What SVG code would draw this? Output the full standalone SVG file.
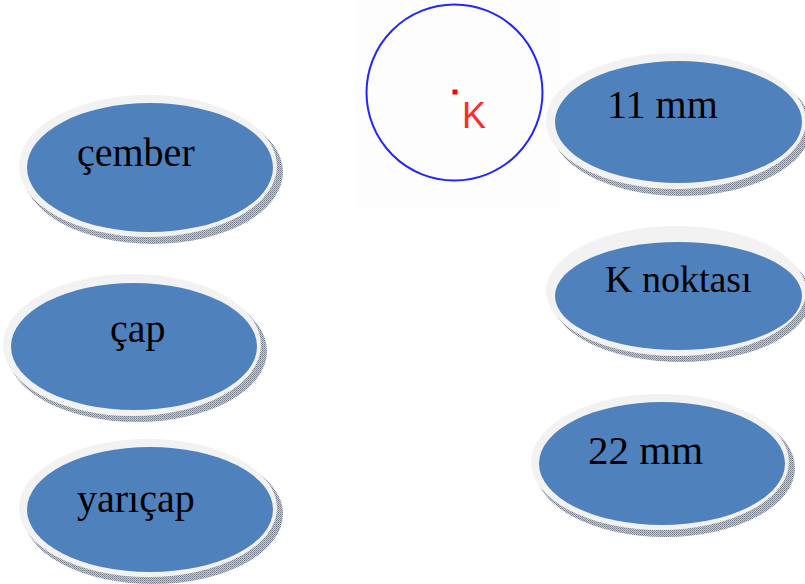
<svg xmlns="http://www.w3.org/2000/svg" width="805" height="584" viewBox="0 0 805 584">
<defs>
<pattern id="hatch" width="2" height="2" patternUnits="userSpaceOnUse">
<rect width="2" height="2" fill="#c9ccd3"/>
<rect width="1" height="1" fill="#737a88"/>
<rect x="1" y="1" width="1" height="1" fill="#8d93a0"/>
</pattern>
</defs>
<style>
.sh{fill:url(#hatch)}
.ring{fill:#f2f2f2}
.face{fill:#4f81bd}
.lbl{font-family:"Liberation Serif","Times New Roman",serif;fill:#000}
</style>
<rect width="805" height="584" fill="#ffffff"/>
<g id="figure">
<rect x="355" y="0" width="205" height="207" fill="#fdfdfd"/>
<circle cx="454.5" cy="92.5" r="88" fill="none" stroke="#2424ff" stroke-width="2"/>
<rect x="452.5" y="89.5" width="5" height="5" fill="#ff0000"/>
<text x="462" y="128" font-family="Liberation Sans, Arial, sans-serif" font-size="36" fill="#ff2a2a">K</text>
</g>
<g id="connectors"></g>
<g id="node-cember">
<ellipse class="sh" cx="153" cy="172" rx="130" ry="72"/>
<ellipse class="ring" cx="148" cy="166" rx="129" ry="71"/>
<ellipse class="face" cx="150" cy="167.5" rx="123" ry="64.5"/>
<text class="lbl" x="77" y="166" font-size="40">çember</text>
</g>
<g id="node-cap">
<ellipse class="sh" cx="137" cy="351" rx="130" ry="71"/>
<ellipse class="ring" cx="132" cy="345" rx="129" ry="71"/>
<ellipse class="face" cx="134" cy="346.5" rx="123" ry="63.5"/>
<text class="lbl" x="110" y="342" font-size="40">çap</text>
</g>
<g id="node-yaricap">
<ellipse class="sh" cx="153" cy="514" rx="130" ry="70"/>
<ellipse class="ring" cx="148" cy="508" rx="129" ry="69"/>
<ellipse class="face" cx="150" cy="509.5" rx="123" ry="62.5"/>
<text class="lbl" x="77" y="512" font-size="40">yarıçap</text>
</g>
<g id="node-11mm">
<ellipse class="sh" cx="681" cy="127" rx="130" ry="69"/>
<ellipse class="ring" cx="676" cy="121" rx="130" ry="68"/>
<ellipse class="face" cx="678.5" cy="122" rx="123.5" ry="61"/>
<text class="lbl" x="607" y="118" font-size="40">11 mm</text>
</g>
<g id="node-knoktasi">
<ellipse class="sh" cx="681" cy="297" rx="130" ry="65"/>
<ellipse class="ring" cx="676" cy="291" rx="130" ry="65"/>
<ellipse class="face" cx="678.5" cy="296" rx="123.5" ry="54"/>
<text class="lbl" x="605" y="292" font-size="38">K noktası</text>
</g>
<g id="node-22mm">
<ellipse class="sh" cx="665" cy="468" rx="130" ry="69"/>
<ellipse class="ring" cx="660" cy="462" rx="129" ry="68"/>
<ellipse class="face" cx="662" cy="463.5" rx="123" ry="61.5"/>
<text class="lbl" x="588" y="464" font-size="41">22 mm</text>
</g>
</svg>
